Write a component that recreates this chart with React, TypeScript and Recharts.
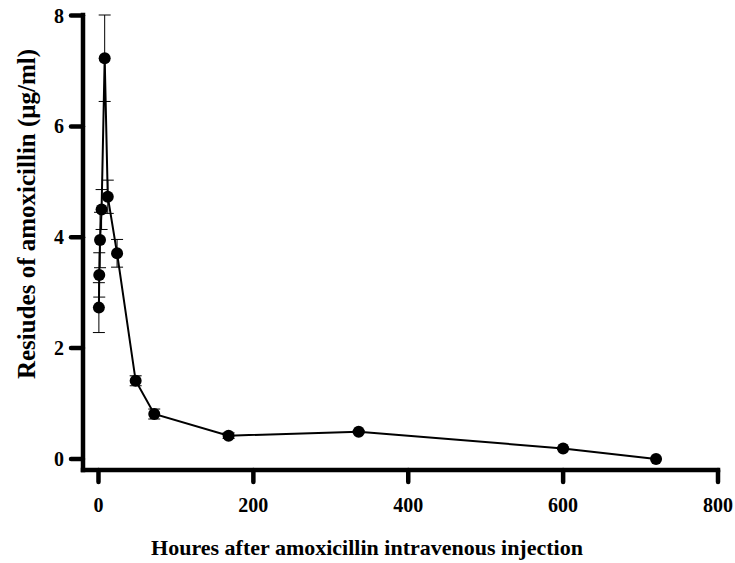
import { ErrorBar, Label, Line, LineChart, XAxis, YAxis } from "recharts";

const hours = [0.5, 1, 2, 4, 8, 12, 24, 48, 72, 168, 336, 600, 720];
const residues = [2.73, 3.32, 3.95, 4.5, 7.23, 4.73, 3.71, 1.41, 0.81, 0.42, 0.49, 0.19, 0.0];
const sd = [0.45, 0.4, 0.5, 0.36, 0.78, 0.3, 0.25, 0.09, 0.09, 0.05, 0.02, 0.02, 0];
const xTicks = [0, 200, 400, 600, 800];
const yTicks = [0, 2, 4, 6, 8];

const data = hours.map((h, i) => ({ h, v: residues[i], sd: sd[i] }));

const FONT = "'Liberation Serif', 'Times New Roman', serif";
const axisStyle = { stroke: "#000", strokeWidth: 4.5, strokeLinecap: "square" as const };
const tickStyle = { stroke: "#000", strokeWidth: 4.5, strokeLinecap: "round" as const };
const tickFont = { fill: "#000", fontSize: 20, fontWeight: 700, fontFamily: FONT };

export default function App() {
  return (
    <div style={{ position: "absolute", left: 0, top: 0, background: "#fff" }}>
      <LineChart width={735} height={563} data={data} margin={{ top: 15, right: 17, bottom: 0, left: 0 }}>
        <XAxis
          type="number"
          dataKey="h"
          domain={[-20, 800]}
          ticks={xTicks}
          height={93}
          axisLine={axisStyle}
          tickLine={tickStyle}
          tickSize={12}
          tickMargin={16}
          tick={tickFont}
        >
          <Label
            content={() => (
              <text x={367} y={555} textAnchor="middle" fontSize={22} fontWeight={700} fontFamily={FONT} fill="#000">
                Houres after amoxicillin intravenous injection
              </text>
            )}
          />
        </XAxis>
        <YAxis
          type="number"
          domain={[-0.2, 8]}
          ticks={yTicks}
          width={83}
          axisLine={axisStyle}
          tickLine={tickStyle}
          tickSize={12}
          tickMargin={7}
          tick={tickFont}
        >
          <Label
            content={() => (
              <text
                x={0}
                y={0}
                transform="translate(35 214) rotate(-90)"
                textAnchor="middle"
                fontSize={25}
                fontWeight={700}
                fontFamily={FONT}
                fill="#000"
              >
                Resiudes of amoxicillin (μg/ml)
              </text>
            )}
          />
        </YAxis>
        <Line
          dataKey="v"
          stroke="#000"
          strokeWidth={2}
          dot={{ r: 6, fill: "#000", stroke: "#000", strokeWidth: 0 }}
          isAnimationActive={false}
        >
          <ErrorBar dataKey="sd" width={6} stroke="#000" strokeWidth={1} direction="y" />
        </Line>
      </LineChart>
    </div>
  );
}
